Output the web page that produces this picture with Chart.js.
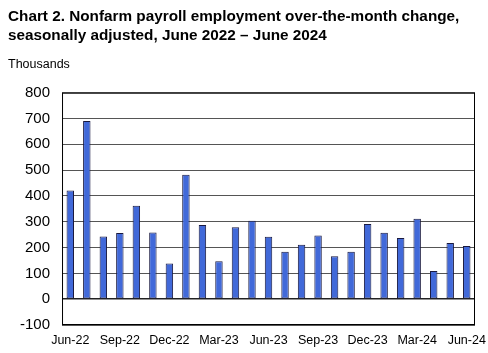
<!DOCTYPE html>
<html>
<head>
<meta charset="utf-8">
<script src="https://cdn.jsdelivr.net/npm/chart.js@4"></script>
<style>
  html, body { margin: 0; padding: 0; background: #fff; }
  #wrap { width: 488px; height: 353px; }
</style>
</head>
<body>
<div id="wrap"><canvas id="payrollChart" width="488" height="353"></canvas></div>
<script>
const months = [
    'Jun-22', 'Jul-22', 'Aug-22', 'Sep-22', 'Oct-22', 'Nov-22', 'Dec-22',
    'Jan-23', 'Feb-23', 'Mar-23', 'Apr-23', 'May-23', 'Jun-23', 'Jul-23',
    'Aug-23', 'Sep-23', 'Oct-23', 'Nov-23', 'Dec-23', 'Jan-24', 'Feb-24',
    'Mar-24', 'Apr-24', 'May-24', 'Jun-24'
];
const payrollChange = [
    421, 690, 243, 256, 362, 258, 138,
    482, 287, 147, 279, 304, 242, 184,
    211, 247, 166, 184, 291, 257, 237,
    312, 109, 218, 206
];
const yTicks = [-100, 0, 100, 200, 300, 400, 500, 600, 700, 800];

// frame around the plot area
const frame = {
    id: 'frame',
    afterDraw(chart) {
        const { ctx, chartArea } = chart;
        ctx.save();
        ctx.strokeStyle = '#000';
        ctx.lineWidth = 1;
        ctx.strokeRect(chartArea.left + 0.5, chartArea.top + 0.5,
            chartArea.right - chartArea.left - 1, chartArea.bottom - chartArea.top - 1);
        ctx.restore();
    }
};

const ctx = document.getElementById('payrollChart').getContext('2d');

const myChart = new Chart(ctx, {
    type: 'bar',
    data: {
        labels: months,
        datasets: [
            {
                label: 'Over-the-month change',
                data: payrollChange,
                backgroundColor: '#4169d9',
                borderColor: '#1a1a40',
                borderWidth: 1,
                borderSkipped: false,
                barPercentage: 0.45,
                categoryPercentage: 1.0,
            },
        ],
    },
    options: {
        responsive: false,
        animation: false,
        layout: {
            padding: { left: 8, right: 13, top: 8, bottom: -3 },
        },
        plugins: {
            legend: { display: false },
            tooltip: { enabled: false },
            title: {
                display: true,
                align: 'start',
                text: ['Chart 2. Nonfarm payroll employment over-the-month change,',
                       'seasonally adjusted, June 2022 \u2013 June 2024'],
                color: '#000',
                font: { family: 'Liberation Sans, Arial, sans-serif', size: 15.3, weight: 'bold', lineHeight: 1.2 },
                padding: { top: 0, bottom: 12 },
            },
            subtitle: {
                display: true,
                align: 'start',
                text: 'Thousands',
                color: '#000',
                font: { family: 'Liberation Sans, Arial, sans-serif', size: 12.5 },
                padding: { top: 0, bottom: 21 },
            },
        },
        scales: {
            x: {
                grid: { display: false, drawTicks: false },
                border: { display: false },
                afterFit: (scale) => {
                    // the last label may hang into the right margin
                    scale.paddingRight = 0;
                },
                ticks: {
                    autoSkip: false,
                    maxRotation: 0,
                    minRotation: 0,
                    padding: 8,
                    color: '#000',
                    font: { family: 'Liberation Sans, Arial, sans-serif', size: 12.5 },
                    callback: function (value, index) {
                        return index % 3 === 0 ? months[index] : '';
                    },
                },
            },
            y: {
                min: -100,
                max: 800,
                afterBuildTicks: (axis) => {
                    axis.ticks = yTicks.map(v => ({ value: v }));
                },
                grid: {
                    drawTicks: false,
                    color: (c) => c.tick && c.tick.value === 0 ? '#222' : '#555',
                    lineWidth: (c) => c.tick && c.tick.value === 0 ? 1.5 : 1,
                },
                border: { display: false },
                ticks: {
                    padding: 12,
                    color: '#000',
                    font: { family: 'Liberation Sans, Arial, sans-serif', size: 15 },
                },
            },
        },
    },
    plugins: [frame],
});
</script>
</body>
</html>
